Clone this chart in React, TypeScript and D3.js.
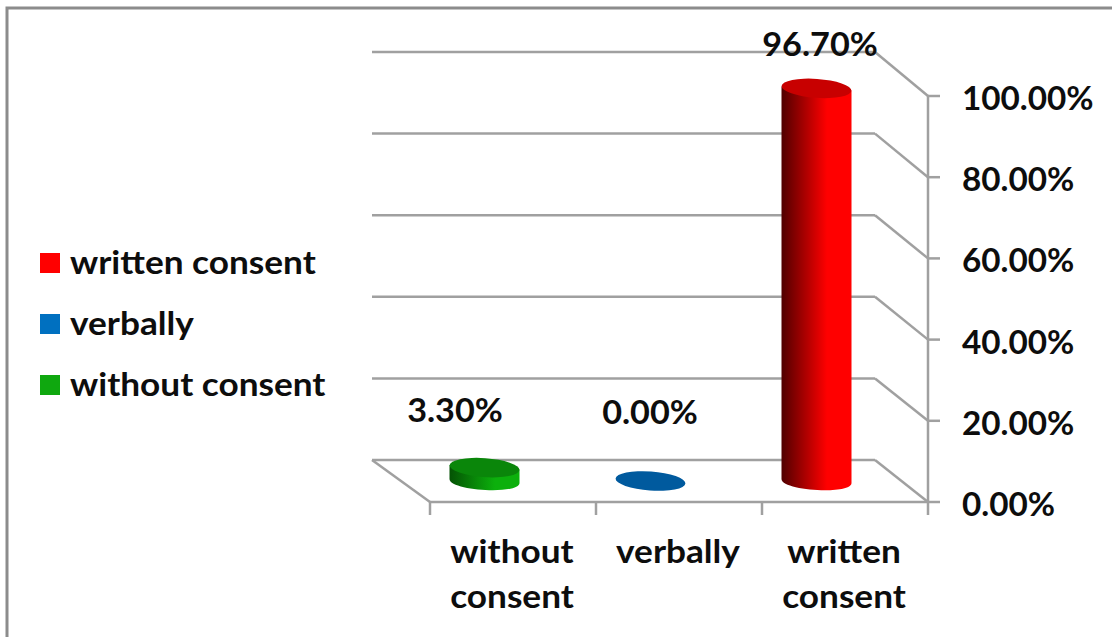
import React from "react";
import * as d3 from "d3";

const categories = ["without consent", "verbally", "written consent"];
const values = [3.3, 0, 96.7];
const valueLabels = ["3.30%", "0.00%", "96.70%"];
const categoryLines = [["without", "consent"], ["verbally"], ["written", "consent"]];
const ticks = [0, 20, 40, 60, 80, 100];
const tickLabels = ["0.00%", "20.00%", "40.00%", "60.00%", "80.00%", "100.00%"];
const legendItems = ["written consent", "verbally", "without consent"];
const legendColors = ["#ff0000", "#0070c0", "#0fa80f"];
const topColors = ["#0a860a", "#005a9e", "#c80000"];
const stops = [
  ["#045204", "#0cb00c"],
  ["#004a80", "#0070c0"],
  ["#500000", "#ff0000"],
];

const W = 1112, H = 637;
const font = "Lato, 'Open Sans', sans-serif";
const dx = -57, dy = -42;
const y = d3.scaleLinear().domain([0, 100]).range([502, 96]);
const yBack = d3.scaleLinear().domain([0, 100]).range([460, 52]);
const x = d3.scaleBand().domain(categories).range([430, 928]).padding(0);
const grey = "#a0a0a0";
const rx = 35, ry = 9.5, tilt = 4;

function Label({ tx, ty, sx, anchor, children }: any) {
  return (
    <text
      transform={`translate(${tx} ${ty}) scale(${sx} 1)`}
      textAnchor={anchor || "start"}
      fontFamily={font}
      fontWeight={700}
      fontSize={32}
      fill="#0d0d0d"
    >
      {children}
    </text>
  );
}

function Cyl({ i }: { i: number }) {
  const c = categories[i];
  const cx = (x(c) as number) + x.bandwidth() / 2 + dx / 2;
  const base = y(0) + dy / 2;
  const top = base - (y(0) - y(values[i]));
  const body = d3.path();
  body.moveTo(cx - rx, top - 2);
  body.lineTo(cx + rx, top + 2);
  body.lineTo(cx + rx, base + 2);
  body.bezierCurveTo(cx + rx, base + 14, cx - rx, base + 10, cx - rx, base - 2);
  body.closePath();
  return (
    <g>
      {values[i] > 0 && <path d={body.toString()} fill={`url(#g${i})`} />}
      <ellipse cx={cx} cy={top} rx={rx} ry={ry} fill={topColors[i]} transform={`rotate(${tilt} ${cx} ${top})`} />
    </g>
  );
}

export default function App() {
  return (
    <svg width={W} height={H} style={{ position: "absolute", left: 0, top: 0, background: "#fff" }}>
      <defs>
        {stops.map((s, i) => (
          <linearGradient id={`g${i}`} key={i} x1="0" x2="1" y1="0" y2="0">
            <stop offset="0" stopColor={s[0]} />
            <stop offset="0.65" stopColor={s[1]} />
            <stop offset="1" stopColor={s[1]} />
          </linearGradient>
        ))}
      </defs>
      <path d={`M7 637V8H${W}`} fill="none" stroke="#8c8c8c" strokeWidth={3} />
      {ticks.map((t, i) => (
        <g key={t}>
          {t > 0 && <line x1={372} x2={875} y1={yBack(t)} y2={yBack(t)} stroke={grey} strokeWidth={2.5} />}
          <line x1={875} x2={928} y1={yBack(t)} y2={y(t)} stroke={grey} strokeWidth={2.5} />
          <line x1={928} x2={940} y1={y(t)} y2={y(t)} stroke={grey} strokeWidth={2.5} />
          <Label tx={962} ty={y(t) + 14} sx={1.04}>{tickLabels[i]}</Label>
        </g>
      ))}
      <line x1={372} x2={875} y1={yBack(0)} y2={yBack(0)} stroke={grey} strokeWidth={2.5} />
      <line x1={372} x2={430} y1={yBack(0)} y2={y(0)} stroke={grey} strokeWidth={2.5} />
      <line x1={430} x2={928} y1={y(0)} y2={y(0)} stroke={grey} strokeWidth={2.5} />
      <line x1={928} x2={928} y1={y(100)} y2={515} stroke={grey} strokeWidth={2.5} />
      {categories.map((c) => x(c) as number).map((p) => (
        <line key={p} x1={p} x2={p} y1={502} y2={515} stroke={grey} strokeWidth={2.5} />
      ))}
      {categories.map((c, i) => <Cyl key={c} i={i} />)}
      {categories.map((c, i) =>
        categoryLines[i].map((l, j) => (
          <Label key={l + i} tx={(x(c) as number) + x.bandwidth() / 2 - 1} ty={563 + j * 45} sx={1.1} anchor="middle">{l}</Label>
        ))
      )}
      {valueLabels.map((l, i) => (
        <Label key={l} tx={[455, 650, 820][i]} ty={[422, 424, 56][i]} sx={1.07} anchor="middle">{l}</Label>
      ))}
      {legendItems.map((l, i) => (
        <g key={l}>
          <rect x={40} y={253 + i * 61} width={20} height={20} fill={legendColors[i]} />
          <Label tx={70} ty={274 + i * 61} sx={1.1}>{l}</Label>
        </g>
      ))}
    </svg>
  );
}
